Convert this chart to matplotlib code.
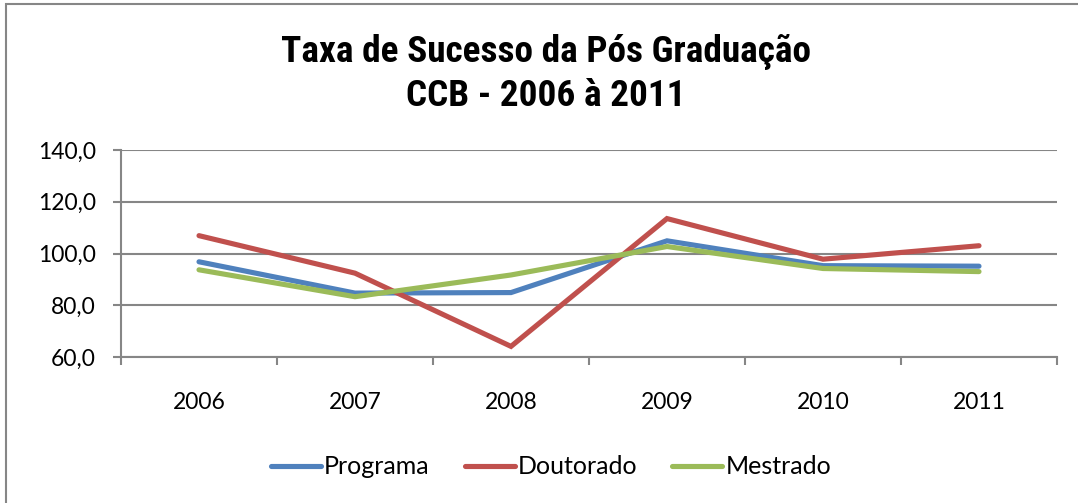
import matplotlib
matplotlib.use("Agg")
import matplotlib.pyplot as plt
from matplotlib.patches import Rectangle
from matplotlib.ticker import FixedLocator

# chart data
anos = ["2006", "2007", "2008", "2009", "2010", "2011"]
programa = [96.8, 84.7, 84.9, 104.9, 95.3, 95.1]
doutorado = [106.9, 92.4, 64.1, 113.5, 97.8, 103.0]
mestrado = [93.7, 83.3, 91.7, 102.7, 94.2, 93.0]
yticks = [60, 80, 100, 120, 140]

# style
cor_grade = "#868686"
cores = {"Programa": "#4F81BD", "Doutorado": "#C0504D", "Mestrado": "#9BBB59"}
fonte_texto = ["Lato", "DejaVu Sans"]
fonte_titulo = ["Roboto Condensed", "Roboto", "DejaVu Sans"]


def main():
    fig = plt.figure(figsize=(10.78, 5.03), dpi=100)
    ax = fig.add_axes([121 / 1078, 1 - 357 / 503, 936 / 1078, 207 / 503])

    # outer chart border
    fig.patches.append(Rectangle((6 / 1078, -0.01), 1.1, 1 - 4 / 503 + 0.01,
                                 transform=fig.transFigure, fill=False,
                                 edgecolor=cor_grade, linewidth=1.5))

    x = range(len(anos))
    for nome, valores in [("Programa", programa), ("Doutorado", doutorado),
                          ("Mestrado", mestrado)]:
        ax.plot(x, valores, color=cores[nome], linewidth=3.7, label=nome,
                solid_capstyle="round", solid_joinstyle="miter")

    ax.set_xlim(-0.5, len(anos) - 0.5)
    ax.set_ylim(60, 140)
    ax.set_yticks(yticks)
    ax.set_yticklabels([f"{v:.1f}".replace(".", ",") for v in yticks],
                       family=fonte_texto, fontsize=16.5)
    ax.set_xticks(list(x))
    ax.set_xticklabels(anos, family=fonte_texto, fontsize=16.5)
    ax.xaxis.set_minor_locator(FixedLocator([i - 0.5 for i in range(len(anos) + 1)]))

    ax.tick_params(axis="x", which="major", length=0, pad=25)
    ax.tick_params(axis="x", which="minor", length=6, width=1.5, color=cor_grade)
    ax.tick_params(axis="y", length=6, width=1.5, color=cor_grade, pad=12)

    ax.grid(axis="y", color=cor_grade, linewidth=1.5)
    ax.set_axisbelow(True)
    for lado in ["top", "right"]:
        ax.spines[lado].set_visible(False)
    for lado in ["left", "bottom"]:
        ax.spines[lado].set_color(cor_grade)
        ax.spines[lado].set_linewidth(1.5)

    fig.text(546 / 1078, 1 - 74 / 503,
             "Taxa de Sucesso da Pós Graduação\nCCB - 2006 à 2011",
             ha="center", va="center", family=fonte_titulo, fontweight="bold",
             fontsize=26.8, linespacing=1.25)

    fig.legend(loc="center", bbox_to_anchor=(551 / 1078, 1 - 467 / 503), ncol=3,
               frameon=False, prop={"family": fonte_texto, "size": 18},
               handlelength=2.0, handletextpad=0.12, columnspacing=1.4)

    fig.savefig("out.png", dpi=100)


if __name__ == "__main__":
    main()
